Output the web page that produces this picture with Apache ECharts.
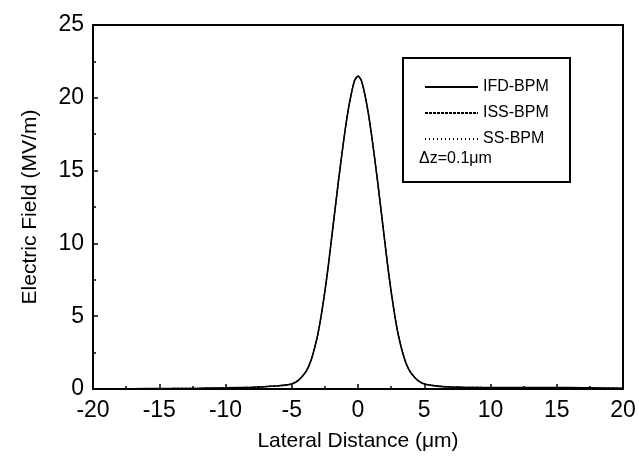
<!DOCTYPE html>
<html>
<head>
<meta charset="utf-8">
<script src="https://cdn.jsdelivr.net/npm/echarts@6/dist/echarts.min.js"></script>
<style>html,body{margin:0;padding:0;background:#fff}#c{width:639px;height:466px}</style>
</head>
<body>
<div id="c"></div>
<script>
// Lateral distance (µm)
var xPos = [-20, -17, -15, -12, -10, -8, -7, -6, -5, -4.5, -4, -3.75, -3.5, -3.25, -3, -2.75, -2.5, -2.25, -2, -1.75, -1.5, -1.25, -1, -0.75, -0.5, -0.25, 0, 0.25, 0.5, 0.75, 1, 1.25, 1.5, 1.75, 2, 2.25, 2.5, 2.75, 3, 3.25, 3.5, 3.75, 4, 4.5, 5, 6, 7, 8, 10, 12, 15, 17, 20];
// Electric field (MV/m) (all three methods coincide)
var ifdBpm = [0.0, 0.02, 0.03, 0.05, 0.08, 0.12, 0.16, 0.22, 0.35, 0.6, 1.1, 1.5, 2.1, 2.9, 3.9, 5.2, 6.7, 8.4, 10.3, 12.2, 14.1, 15.9, 17.6, 19.1, 20.3, 21.2, 21.5, 21.2, 20.3, 19.1, 17.6, 15.9, 14.1, 12.2, 10.3, 8.4, 6.7, 5.2, 3.9, 2.9, 2.1, 1.5, 1.1, 0.6, 0.35, 0.2, 0.14, 0.12, 0.1, 0.1, 0.1, 0.08, 0.05];
var issBpm = ifdBpm.slice();
var ssBpm = ifdBpm.slice();
var seriesNames = ['IFD-BPM', 'ISS-BPM', 'SS-BPM'];
var xTicks = [-20, -15, -10, -5, 0, 5, 10, 15, 20];
var yTicks = [0, 5, 10, 15, 20, 25];

function pairs(xs, ys){ return xs.map(function(x,i){return [x, ys[i]];}); }

var chart = echarts.init(document.getElementById('c'));
var font = 'Liberation Sans, Arial, sans-serif';
var axisCommon = {
  axisLine: {show: true, onZero: false, lineStyle: {color: '#000', width: 2}},
  axisTick: {show: true, inside: true, length: 5, lineStyle: {color: '#000', width: 1.5}},
  minorTick: {show: true, splitNumber: 2, length: 3, lineStyle: {color: '#000', width: 1.5}},
  splitLine: {show: false}
};
var boxAxis = {
  axisLine: {show: true, onZero: false, lineStyle: {color: '#000', width: 2}},
  axisTick: {show: false}, axisLabel: {show: false}, splitLine: {show: false}
};
chart.setOption({
  animation: false,
  grid: {left: 93, right: 16, top: 25, bottom: 77, show: false},
  legend: {
    data: seriesNames,
    orient: 'vertical',
    left: 419, top: 74,
    itemWidth: 53, itemHeight: 14, itemGap: 10,
    itemStyle: {color: 'rgba(0,0,0,0)', borderColor: 'rgba(0,0,0,0)', borderWidth: 0},
    textStyle: {fontFamily: font, fontSize: 16, color: '#000'}
  },
  xAxis: [Object.assign({
    type: 'value', min: -20, max: 20, interval: 5,
    name: 'Lateral Distance (\u03bcm)', nameLocation: 'middle', nameGap: 42,
    nameTextStyle: {fontFamily: font, fontSize: 21, color: '#000'},
    axisLabel: {fontFamily: font, fontSize: 23, color: '#000', margin: 10,
      formatter: function(v){ return xTicks.indexOf(v) >= 0 ? String(v) : ''; }}
  }, axisCommon), Object.assign({type: 'value', position: 'top', min: -20, max: 20, interval: 5}, boxAxis)],
  yAxis: [Object.assign({
    type: 'value', min: 0, max: 25, interval: 5,
    name: 'Electric Field (MV/m)', nameLocation: 'middle', nameGap: 52,
    nameTextStyle: {fontFamily: font, fontSize: 21, color: '#000'},
    axisLabel: {fontFamily: font, fontSize: 23, color: '#000', margin: 9,
      formatter: function(v){ return yTicks.indexOf(v) >= 0 ? String(v) : ''; }}
  }, axisCommon), Object.assign({type: 'value', position: 'right', min: 0, max: 25, interval: 5}, boxAxis)],
  series: [
    {name: seriesNames[0], type: 'line', data: pairs(xPos, ifdBpm), smooth: 0.2, symbol: 'none',
     lineStyle: {color: '#000', width: 1.6, type: 'solid'}, itemStyle: {color: '#000'}},
    {name: seriesNames[1], type: 'line', data: pairs(xPos, issBpm), smooth: 0.2, symbol: 'none',
     lineStyle: {color: '#000', width: 1.2, type: [3, 1]}, itemStyle: {color: '#000'}},
    {name: seriesNames[2], type: 'line', data: pairs(xPos, ssBpm), smooth: 0.2, symbol: 'none',
     lineStyle: {color: '#000', width: 1.2, type: [1, 3]}, itemStyle: {color: '#000'}}
  ],
  graphic: [
    {type: 'rect', shape: {x: 403, y: 58, width: 167, height: 124}, style: {fill: 'none', stroke: '#000', lineWidth: 2}},
    {type: 'text', x: 419, y: 151, style: {text: '\u0394z=0.1\u03bcm', font: '16px ' + font, fill: '#000'}}
  ]
});
</script>
</body>
</html>
